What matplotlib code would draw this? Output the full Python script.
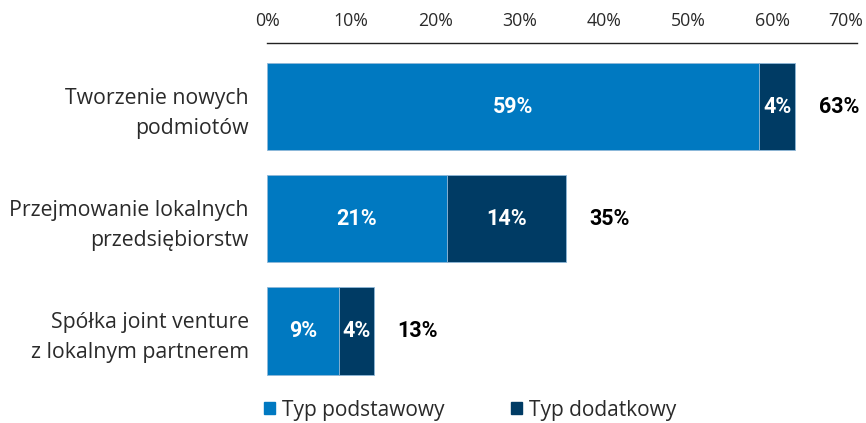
import matplotlib.pyplot as plt
from matplotlib.patches import Patch
import matplotlib.transforms as mtransforms

plt.rcParams['font.family'] = ['Open Sans', 'DejaVu Sans']

categories = ['Tworzenie nowych\npodmiotów',
              'Przejmowanie lokalnych\nprzedsiębiorstw',
              'Spółka joint venture\nz lokalnym partnerem']
podstawowy = [58.4, 21.3, 8.5]
dodatkowy = [4.3, 14.2, 4.2]
lab_podst = ['59%', '21%', '9%']
lab_dod = ['4%', '14%', '4%']
lab_total = ['63%', '35%', '13%']
series_names = ['Typ podstawowy', 'Typ dodatkowy']
xticks = [0, 10, 20, 30, 40, 50, 60, 70]

c_light = '#0079C1'
c_dark = '#003B64'
txt = '#2a2a2a'

fig = plt.figure(figsize=(8.66, 4.23), dpi=100)
ax = fig.add_axes([267/866, 1 - 390/423, (857 - 267)/866, (390 - 43)/423])

y = list(range(len(categories)))
h = 0.78
ax.barh(y, podstawowy, height=h, color=c_light, edgecolor='#8fb8d8', linewidth=0.6)
ax.barh(y, dodatkowy, left=podstawowy, height=h, color=c_dark, edgecolor='#8fb8d8', linewidth=0.6)

bold = dict(family=['Roboto', 'DejaVu Sans'], fontsize=15.5, fontweight='bold')
for i in y:
    ax.text(podstawowy[i] / 2, i, lab_podst[i], ha='center', va='center',
            color='white', **bold)
    ax.text(podstawowy[i] + dodatkowy[i] / 2, i, lab_dod[i], ha='center', va='center',
            color='white', **bold)
    ax.annotate(lab_total[i], (podstawowy[i] + dodatkowy[i], i), xytext=(17, 0),
                textcoords='offset points', ha='left', va='center',
                color='black', **bold)

ax.set_xlim(0, 70)
ax.set_ylim(2.527, -0.567)
ax.set_xticks(xticks)
ax.set_xticklabels([f'{t}%' for t in xticks])
ax.xaxis.tick_top()
ax.tick_params(axis='x', length=0, pad=9, labelsize=12.8, colors=txt)
# last tick label is pulled inside the figure, as in the original
last = ax.get_xticklabels()[-1]
last.set_transform(last.get_transform() + mtransforms.ScaledTranslation(-11/100, 0, fig.dpi_scale_trans))

ax.set_yticks(y)
ax.set_yticklabels(categories, fontsize=15.3, color=txt, multialignment='right',
                   linespacing=1.55)
ax.tick_params(axis='y', length=0, pad=13)

for s in ['left', 'right', 'bottom']:
    ax.spines[s].set_visible(False)
ax.spines['top'].set_linewidth(1.0)
ax.spines['top'].set_color('#222222')

handles = [Patch(color=c_light), Patch(color=c_dark)]
fig.legend(handles, series_names, loc='center left', bbox_to_anchor=(264/866, 1 - 410/423),
           ncol=2, frameon=False, fontsize=15, handlelength=0.55, handleheight=0.55,
           handletextpad=0.3, columnspacing=3.2, borderpad=0, borderaxespad=0,
           labelcolor=txt)

fig.savefig('out.png', dpi=100)
